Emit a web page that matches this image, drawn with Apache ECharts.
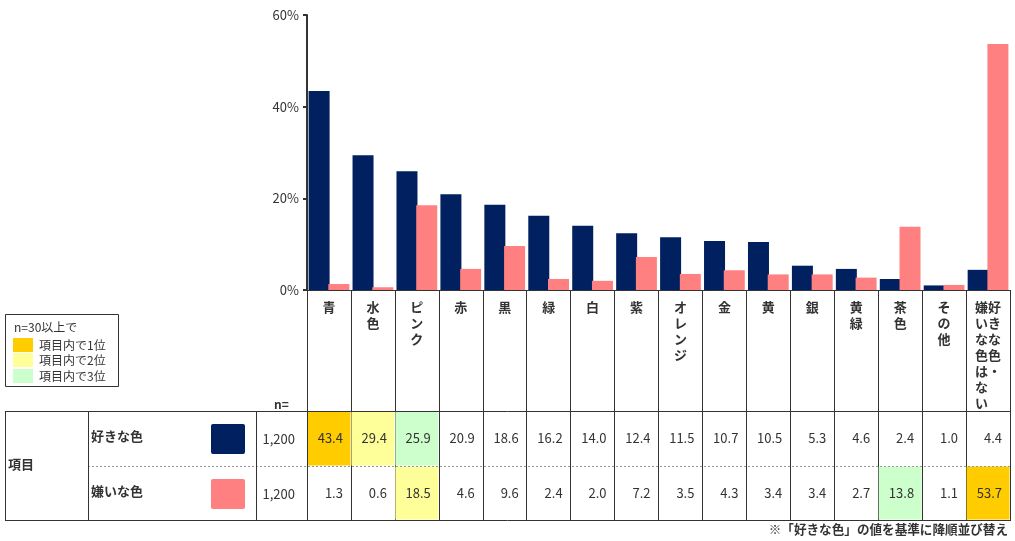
<!DOCTYPE html>
<html><head><meta charset="utf-8">
<script src="https://cdn.jsdelivr.net/npm/echarts@6/dist/echarts.min.js"></script>
<style>html,body{margin:0;padding:0;background:#fff}#c{width:1015px;height:541px}</style>
</head><body><div id="c"></div>
<script>
const categories = ['青','水色','ピンク','赤','黒','緑','白','紫','オレンジ','金','黄','銀','黄緑','茶色','その他','好きな色・嫌いな色はない'];
const likeValues = [43.4,29.4,25.9,20.9,18.6,16.2,14.0,12.4,11.5,10.7,10.5,5.3,4.6,2.4,1.0,4.4];
const dislikeValues = [1.3,0.6,18.5,4.6,9.6,2.4,2.0,7.2,3.5,4.3,3.4,3.4,2.7,13.8,1.1,53.7];
const seriesNames = ['好きな色','嫌いな色'];
const sampleSizes = ['1,200','1,200'];
const seriesColors = ['#002060','#FF8080'];
const rankColors = ['#FFCC00','#FFFF99','#CCFFCC'];
const rankLegend = ['項目内で1位','項目内で2位','項目内で3位'];
const legendTitle = 'n=30以上で';
const rowHeader = '項目';
const nLabel = 'n=';
const footnote = '※「好きな色」の値を基準に降順並び替え';
const yMin = 0, yMax = 60, yStep = 20;

const FONT = '"Noto Sans CJK JP","Noto Sans",sans-serif';
const TXT = '#333';

function ranks(vals){
  const order = vals.map((v,i)=>i).sort((a,b)=>vals[b]-vals[a]);
  const r = vals.map(()=>-1);
  order.slice(0,3).forEach((idx,k)=>{ r[idx]=k; });
  return r;
}
const likeRanks = ranks(likeValues);
const dislikeRanks = ranks(dislikeValues);

function vertLabel(s){
  const p = s.indexOf('・');
  if (p >= 0 && s.length > 8) {
    const right = s.slice(0,p+1).split('');
    const left = s.slice(p+1).split('');
    const n = Math.max(left.length, right.length);
    const lines = [];
    for (let i=0;i<n;i++) lines.push((left[i]||'　')+(right[i]||'　'));
    return lines.join('\n');
  }
  return s.split('').join('\n');
}

// table geometry (relative to table grid: y 0 = pixel 290)
const ROW1 = [121,176], ROW2 = [176,230];

function cellRenderer(row){
  return function(params, api){
    const i = api.value(0), v = api.value(1), rk = api.value(2);
    const c = api.coord([i, row[0]]);
    const c2 = api.coord([i, row[1]]);
    const w = api.size([1,0])[0];
    const x0 = c[0]-w/2, x1 = c[0]+w/2;
    const children = [];
    if (rk >= 0) {
      children.push({type:'rect', shape:{x:x0+0.5, y:c[1]+0.5, width:w-1, height:c2[1]-c[1]-1}, style:{fill:rankColors[rk]}});
    }
    children.push({type:'text', style:{text:v.toFixed(1), x:x1-8, y:(c[1]+c2[1])/2, align:'right', verticalAlign:'middle', fill:TXT, fontSize:13, fontFamily:FONT}});
    return {type:'group', children};
  };
}

const chart = echarts.init(document.getElementById('c'));
const graphics = [];
function line(x1,y1,x2,y2,extra){ graphics.push(Object.assign({type:'line', shape:{x1,y1,x2,y2}, style:{stroke:'#333', lineWidth:1}, z:100}, extra||{})); }
// table outer lines
line(5,411.5,1010,411.5);
line(5,520.5,1010,520.5);
line(88,466.5,1010,466.5,{style:{stroke:'#999',lineWidth:1,lineDash:[2,2]}});
[5.5,88.5,256.5].forEach(x=>line(x,411,x,521));
line(307.5,290,307.5,521);
line(1010.5,290,1010.5,521);
// left table texts
graphics.push({type:'text', left:8, top:458, style:{text:rowHeader, fill:TXT, font:'bold 13px '+FONT}});
graphics.push({type:'text', left:274, top:398, style:{text:nLabel, fill:TXT, font:'bold 12px '+FONT}});
const rowMid = [439,494];
seriesNames.forEach((nm,k)=>{
  graphics.push({type:'text', left:91, top:rowMid[k]-9, style:{text:nm, fill:TXT, font:'bold 13px '+FONT}});
  graphics.push({type:'rect', shape:{x:211, y:rowMid[k]-15, width:34, height:30, r:2}, style:{fill:seriesColors[k]}});
  graphics.push({type:'text', style:{text:sampleSizes[k], x:295, y:rowMid[k], align:'right', verticalAlign:'middle', fill:TXT, font:'13px '+FONT}});
});
// rank legend box
graphics.push({type:'rect', shape:{x:5.5, y:314.5, width:113, height:72}, style:{fill:'#fff', stroke:'#333', lineWidth:1}});
graphics.push({type:'text', style:{text:legendTitle, x:14, y:327, verticalAlign:'middle', fill:TXT, font:'12px '+FONT}});
const legY = [345,360,376];
rankLegend.forEach((t,k)=>{
  graphics.push({type:'rect', shape:{x:13, y:legY[k]-7, width:20, height:14}, style:{fill:rankColors[k]}});
  graphics.push({type:'text', style:{text:t, x:39, y:legY[k], verticalAlign:'middle', fill:TXT, font:'12px '+FONT}});
});
// footnote
graphics.push({type:'text', style:{text:footnote, x:1008, y:529, align:'right', verticalAlign:'middle', fill:TXT, font:'bold 12.6px '+FONT}});

chart.setOption({
  animation:false,
  textStyle:{fontFamily:FONT},
  grid:[
    {left:307, right:5, top:15, bottom:251},
    {left:307, right:5, top:290, height:230}
  ],
  xAxis:[
    {type:'category', gridIndex:0, data:categories,
     axisLine:{lineStyle:{color:'#333', width:1}}, axisTick:{show:false},
     axisLabel:{interval:0, margin:9, formatter:vertLabel, color:TXT, fontSize:13, fontWeight:'bold', lineHeight:16, verticalAlign:'top'}},
    {type:'category', gridIndex:1, data:categories,
     axisLine:{show:false}, axisTick:{show:false}, axisLabel:{show:false},
     splitLine:{show:true, interval:0, lineStyle:{color:'#333', width:1}}}
  ],
  yAxis:[
    {type:'value', gridIndex:0, min:yMin, max:yMax, interval:yStep,
     axisLine:{show:true, lineStyle:{color:'#333', width:2}},
     axisTick:{show:true, length:4, lineStyle:{color:'#333', width:2}},
     splitLine:{show:false},
     axisLabel:{formatter:'{value}%', color:TXT, fontSize:13, margin:8}},
    {type:'value', gridIndex:1, min:0, max:230, inverse:true, show:false}
  ],
  series:[
    {name:seriesNames[0], type:'bar', xAxisIndex:0, yAxisIndex:0, data:likeValues, barWidth:21, barGap:'-6%', itemStyle:{color:seriesColors[0]}},
    {name:seriesNames[1], type:'bar', xAxisIndex:0, yAxisIndex:0, data:dislikeValues, barWidth:21, barGap:'-6%', itemStyle:{color:seriesColors[1]}},
    {type:'custom', xAxisIndex:1, yAxisIndex:1, data:likeValues.map((v,i)=>[i,v,likeRanks[i]]), renderItem:cellRenderer(ROW1), clip:false, silent:true},
    {type:'custom', xAxisIndex:1, yAxisIndex:1, data:dislikeValues.map((v,i)=>[i,v,dislikeRanks[i]]), renderItem:cellRenderer(ROW2), clip:false, silent:true}
  ],
  graphic:graphics
});
</script></body></html>
